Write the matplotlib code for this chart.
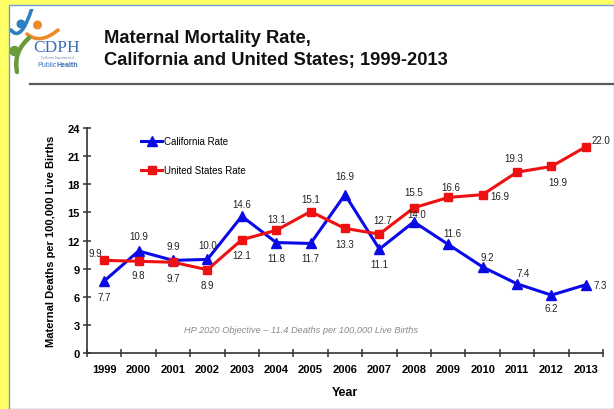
import matplotlib
matplotlib.use("Agg")
import matplotlib.pyplot as plt
from matplotlib.patches import Rectangle, Circle, PathPatch
from matplotlib.path import Path
from matplotlib.lines import Line2D

plt.rcParams['font.family'] = ['Liberation Sans', 'DejaVu Sans']

# ---- data -------------------------------------------------------------
years = ["1999", "2000", "2001", "2002", "2003", "2004", "2005", "2006",
         "2007", "2008", "2009", "2010", "2011", "2012", "2013"]
california_rate = [7.7, 10.9, 9.9, 10.0, 14.6, 11.8, 11.7, 16.9,
                   11.1, 14.0, 11.6, 9.2, 7.4, 6.2, 7.3]
us_rate = [9.9, 9.8, 9.7, 8.9, 12.1, 13.1, 15.1, 13.3,
           12.7, 15.5, 16.6, 16.9, 19.3, 19.9, 22.0]
y_ticks = [0, 3, 6, 9, 12, 15, 18, 21, 24]

# label offsets (pixels) for the value annotations
ca_offsets = [(0, -16), (0, 15), (0, 14), (0, 14), (0, 12), (0, -15), (0, -15),
              (0, 19), (0, -15), (3, 8), (4, 11), (5, 10), (6, 10.5), (0, -13), (14, 0)]
us_offsets = [(-9, 7), (0, -14), (0, -16), (0, -15.5), (0, -15), (0, 11), (0, 13),
              (0, -15.5), (3, 14), (0, 16), (3, 10), (17, -1), (-3, 14), (6, -16), (15, 7)]

W, H = 614, 410
fig = plt.figure(figsize=(W / 100, H / 100), dpi=100)
fig.patch.set_facecolor('#ffff66')


def fx(px):
    return px / W


def fy(py):
    return 1 - py / H


# white slide panel
fig.add_artist(Rectangle((fx(9), fy(410)), fx(614) - fx(9), fy(6) - fy(410),
                         transform=fig.transFigure, facecolor='white',
                         edgecolor='#6d9bd6', linewidth=1.0, zorder=0))

# ---- logo ---------------------------------------------------------------
lg = fig.add_axes([fx(10), fy(80), fx(90) - fx(10), fy(10) - fy(80)])
lg.set_xlim(10, 90)
lg.set_ylim(80, 10)
lg.axis('off')
lg.patch.set_alpha(0)


def swoosh(p0, c, p1, color, lw):
    path = Path([p0, c, p1], [Path.MOVETO, Path.CURVE3, Path.CURVE3])
    lg.add_patch(PathPatch(path, fill=False, edgecolor=color, linewidth=lw,
                           capstyle='round'))


swoosh((11, 31), (21, 44), (32, 9), '#2f7fc1', 2.6)
swoosh((27, 35), (40, 46), (58, 31), '#ef8a2a', 2.6)
swoosh((29, 39), (13, 53), (17, 73), '#6b9a3a', 3.2)
lg.add_patch(Circle((21, 25), 3.8, color='#2f7fc1'))
lg.add_patch(Circle((37.5, 26), 3.8, color='#ef8a2a'))
lg.add_patch(Circle((14.5, 52), 4.5, color='#6b9a3a'))
lg.text(57, 48.5, "CDPH", family=['Liberation Serif', 'DejaVu Serif'], fontsize=12.5,
        color='#3d6fb6', ha='center', va='center')
lg.text(57, 58.5, "California Department of", fontsize=2.2, color='#7a8aa8',
        ha='center', va='center')
lg.text(56.5, 65.5, "Public", fontsize=5, color='#3d6fb6', ha='right', va='center')
lg.text(56.5, 65.5, "Health", fontsize=5, color='#3d6fb6', ha='left', va='center',
        fontweight='bold')

# ---- title and rule ------------------------------------------------------
fig.text(fx(104), fy(38.5), "Maternal Mortality Rate,", fontsize=13.2, fontweight='bold',
         ha='left', va='center', color='#111111')
fig.text(fx(104), fy(60), "California and United States; 1999-2013", fontsize=13.2,
         fontweight='bold', ha='left', va='center', color='#111111')
fig.add_artist(Line2D([fx(30), fx(614)], [fy(84.5), fy(84.5)], transform=fig.transFigure,
                      color='#5a5a5a', linewidth=1.6))

# ---- chart ---------------------------------------------------------------
ax = fig.add_axes([fx(87), fy(354.3), fx(603) - fx(87), fy(129) - fy(354.3)])
ax.patch.set_alpha(0)
x = list(range(len(years)))

ax.plot(x, california_rate, color='#0a0ae6', linewidth=2.2, marker='^',
        markersize=7, label='California Rate', zorder=3)
ax.plot(x, us_rate, color='#ee1111', linewidth=2.2, marker='s',
        markersize=5.5, label='United States Rate', zorder=3)

for xi, v, (dx, dy) in zip(x, california_rate, ca_offsets):
    ax.annotate(f"{v:.1f}", (xi, v), xytext=(dx, dy), textcoords='offset pixels',
                ha='center', va='center', fontsize=7, color='#222222')
for xi, v, (dx, dy) in zip(x, us_rate, us_offsets):
    ax.annotate(f"{v:.1f}", (xi, v), xytext=(dx, dy), textcoords='offset pixels',
                ha='center', va='center', fontsize=7, color='#222222')

ax.set_xlim(-0.5, len(years) - 0.5)
ax.set_ylim(0, 24)
ax.set_yticks(y_ticks)
ax.set_yticklabels([str(t) for t in y_ticks], fontsize=8, fontweight='bold')
ax.set_xticks([i - 0.5 for i in range(len(years) + 1)])
ax.set_xticklabels([])
ax.set_xticks(x, minor=True)
ax.set_xticklabels(years, minor=True, fontsize=8, fontweight='bold')
ax.tick_params(axis='x', which='major', direction='inout', length=6, width=1.1,
               color='#333333')
ax.tick_params(axis='x', which='minor', length=0, pad=8)
ax.tick_params(axis='y', direction='inout', length=6, width=1.1, color='#333333', pad=2)
for side in ('top', 'right'):
    ax.spines[side].set_visible(False)
for side in ('left', 'bottom'):
    ax.spines[side].set_color('#333333')
    ax.spines[side].set_linewidth(1.2)

ax.set_xlabel("Year", fontsize=9, fontweight='bold', labelpad=8)
ax.set_ylabel("Maternal Deaths per 100,000 Live Births", fontsize=8,
              fontweight='bold', labelpad=8)

ax.text(0.415, 0.105, "HP 2020 Objective \u2013 11.4 Deaths per 100,000 Live Births",
        transform=ax.transAxes, ha='center', va='center', fontsize=6.7,
        style='italic', color='#8a8a8a')

ax.legend(loc='upper left', bbox_to_anchor=(fx(141), fy(137)),
          bbox_transform=fig.transFigure, frameon=False, fontsize=7,
          handlelength=2.2, handletextpad=0.2, labelspacing=1.95,
          borderpad=0, borderaxespad=0, numpoints=1)

fig.savefig("out.png", dpi=100, facecolor=fig.get_facecolor())
